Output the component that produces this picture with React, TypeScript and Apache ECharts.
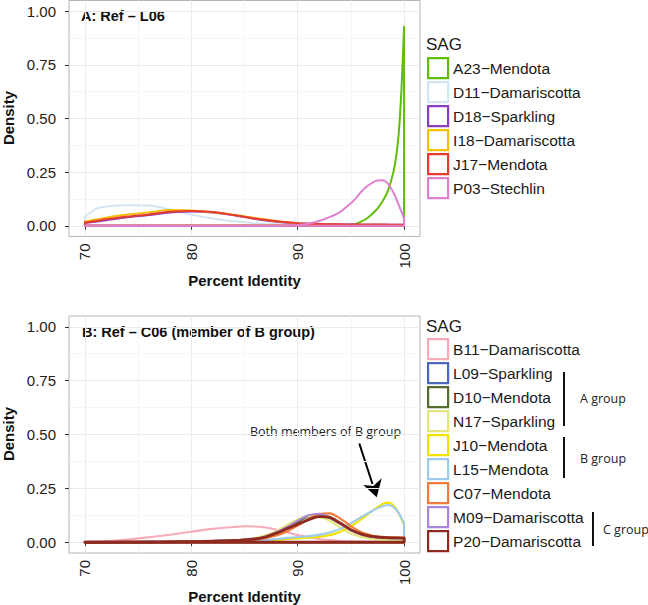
import React, { useEffect, useRef } from "react";
import * as echarts from "echarts";

// ---------- Panel A data ----------
const xA = [70, 71, 72, 74, 76, 78, 80, 82, 84, 86, 88, 89, 90, 91, 92, 93, 94, 95, 95.5, 96, 96.5, 97, 97.5, 98, 98.5, 99, 99.25, 99.5, 99.75, 100];
const namesA = ["A23\u2212Mendota", "D11\u2212Damariscotta", "D18\u2212Sparkling", "I18\u2212Damariscotta", "J17\u2212Mendota", "P03\u2212Stechlin"];
const colorsA = ["#62bd0a", "#d2e6f5", "#8b3ec0", "#f4bf0a", "#e63b2e", "#df80cf"];
const a23 = [0, 0, 0, 0, 0, 0, 0, 0, 0, 0, 0, 0, 0, 0, 0, 0, 0.001, 0.004, 0.009, 0.02, 0.034, 0.055, 0.08, 0.115, 0.165, 0.25, 0.32, 0.43, 0.63, 0.925];
const d11 = [0.042, 0.078, 0.09, 0.096, 0.094, 0.076, 0.052, 0.034, 0.021, 0.012, 0.007, 0.005, 0.004, 0.003, 0.002, 0.002, 0.002, 0.001, 0.001, 0.001, 0.001, 0.001, 0.001, 0.001, 0.001, 0.001, 0.001, 0.001, 0.001, 0.001];
const d18 = [0.013, 0.019, 0.026, 0.04, 0.05, 0.062, 0.067, 0.062, 0.049, 0.032, 0.019, 0.014, 0.011, 0.009, 0.008, 0.007, 0.006, 0.006, 0.005, 0.005, 0.005, 0.005, 0.005, 0.005, 0.005, 0.005, 0.005, 0.005, 0.005, 0.005];
const i18 = [0.019, 0.029, 0.038, 0.052, 0.062, 0.073, 0.071, 0.063, 0.051, 0.036, 0.022, 0.016, 0.011, 0.008, 0.006, 0.005, 0.004, 0.004, 0.003, 0.003, 0.003, 0.003, 0.003, 0.003, 0.003, 0.003, 0.003, 0.003, 0.003, 0.003];
const j17 = [0.015, 0.022, 0.03, 0.043, 0.053, 0.065, 0.069, 0.064, 0.05, 0.034, 0.021, 0.016, 0.012, 0.01, 0.008, 0.007, 0.007, 0.006, 0.006, 0.006, 0.006, 0.006, 0.006, 0.006, 0.005, 0.005, 0.005, 0.005, 0.005, 0.005];
const p03 = [0, 0, 0, 0, 0, 0, 0, 0, 0, 0, 0, 0.002, 0.004, 0.01, 0.022, 0.04, 0.065, 0.105, 0.13, 0.16, 0.183, 0.2, 0.211, 0.212, 0.195, 0.155, 0.128, 0.097, 0.066, 0.035];
const valuesA = [a23, d11, d18, i18, j17, p03];

// ---------- Panel B data ----------
const xB = [70, 72, 74, 76, 78, 80, 82, 84, 85, 86, 87, 88, 89, 90, 91, 92, 93, 94, 95, 96, 97, 97.5, 98, 98.5, 99, 99.5, 100];
const namesB = ["B11\u2212Damariscotta", "L09\u2212Sparkling", "D10\u2212Mendota", "N17\u2212Sparkling", "J10\u2212Mendota", "L15\u2212Mendota", "C07\u2212Mendota", "M09\u2212Damariscotta", "P20\u2212Damariscotta"];
const colorsB = ["#f7aab9", "#4a68bd", "#566b2e", "#e3e67a", "#f2e200", "#9ecbeb", "#f27b3a", "#a886d9", "#8e2a20"];
const b11 = [0.001, 0.005, 0.013, 0.023, 0.035, 0.049, 0.062, 0.071, 0.074, 0.073, 0.068, 0.058, 0.046, 0.033, 0.023, 0.015, 0.01, 0.006, 0.004, 0.003, 0.002, 0.002, 0.001, 0.001, 0.001, 0.001, 0.001];
const l09 = [0, 0.001, 0.001, 0.002, 0.003, 0.004, 0.006, 0.009, 0.012, 0.017, 0.027, 0.044, 0.068, 0.096, 0.121, 0.128, 0.114, 0.085, 0.056, 0.036, 0.025, 0.022, 0.02, 0.019, 0.018, 0.018, 0.018];
const d10 = [0, 0, 0.001, 0.001, 0.002, 0.003, 0.005, 0.008, 0.011, 0.016, 0.026, 0.043, 0.067, 0.095, 0.12, 0.129, 0.116, 0.087, 0.057, 0.037, 0.026, 0.023, 0.021, 0.02, 0.019, 0.019, 0.019];
const n17 = [0, 0, 0.001, 0.001, 0.002, 0.003, 0.005, 0.009, 0.013, 0.02, 0.032, 0.052, 0.08, 0.106, 0.122, 0.12, 0.1, 0.068, 0.04, 0.024, 0.016, 0.014, 0.012, 0.012, 0.011, 0.011, 0.011];
const j10 = [0, 0, 0.001, 0.001, 0.001, 0.002, 0.002, 0.003, 0.004, 0.005, 0.007, 0.01, 0.014, 0.018, 0.021, 0.025, 0.033, 0.049, 0.074, 0.107, 0.145, 0.163, 0.178, 0.184, 0.172, 0.135, 0.08];
const l15 = [0, 0.001, 0.001, 0.001, 0.002, 0.002, 0.003, 0.004, 0.005, 0.007, 0.01, 0.015, 0.02, 0.024, 0.028, 0.034, 0.045, 0.062, 0.088, 0.118, 0.145, 0.157, 0.167, 0.173, 0.164, 0.135, 0.088];
const c07 = [0, 0, 0.001, 0.001, 0.002, 0.003, 0.004, 0.006, 0.008, 0.012, 0.019, 0.031, 0.05, 0.077, 0.107, 0.131, 0.134, 0.11, 0.075, 0.046, 0.031, 0.027, 0.025, 0.024, 0.023, 0.022, 0.022];
const m09 = [0, 0, 0.001, 0.001, 0.002, 0.003, 0.005, 0.008, 0.011, 0.016, 0.027, 0.046, 0.071, 0.1, 0.125, 0.132, 0.116, 0.086, 0.056, 0.036, 0.025, 0.022, 0.02, 0.019, 0.018, 0.018, 0.018];
const p20 = [0, 0, 0.001, 0.001, 0.002, 0.003, 0.005, 0.008, 0.011, 0.015, 0.025, 0.042, 0.063, 0.084, 0.104, 0.119, 0.115, 0.089, 0.058, 0.038, 0.027, 0.024, 0.022, 0.021, 0.02, 0.02, 0.019];
const valuesB = [b11, l09, d10, n17, j10, l15, c07, m09, p20];

// ---------- Axes ----------
const xTicks = [70, 80, 90, 100];
const xMinorTicks = [75, 85, 95];
const yTicks = [0, 0.25, 0.5, 0.75, 1];
const yMinorTicks = [0.125, 0.375, 0.625, 0.875];
const xRange = [68.5, 101.5];
const yRange = [-0.05, 1.05];

const FONT = '"Liberation Sans", Arial, Helvetica, sans-serif';
const ANNOT = '"Open Sans", "Noto Sans", sans-serif';

function densitySeries(name: string, color: string, xs: number[], ys: number[], axisIdx: number, width: number) {
  const n = xs.length;
  const curve = xs.map((x, i) => [x, ys[i]]);
  const edges = [[xs[n - 1], ys[n - 1]], [xs[n - 1], 0], [xs[0], 0], [xs[0], ys[0]]];
  const common: any = {
    type: "line",
    name,
    xAxisIndex: axisIdx,
    yAxisIndex: axisIdx,
    symbol: "none",
    showSymbol: false,
    silent: true,
    clip: false,
    emphasis: { disabled: true },
    lineStyle: { color, width, cap: "round", join: "round" },
    itemStyle: { color },
  };
  return [
    { ...common, data: curve, smooth: 0.3 },
    { ...common, data: edges, smooth: false },
  ];
}

function majorX(gridIndex: number) {
  return {
    type: "value",
    gridIndex,
    min: xRange[0],
    max: xRange[1],
    axisLine: { show: false },
    axisTick: { show: true, length: 4, customValues: xTicks, lineStyle: { color: "#333", width: 1 } },
    axisLabel: { customValues: xTicks, rotate: 90, margin: 7, fontSize: 15, color: "#222", fontFamily: FONT },
    splitLine: { show: true, lineStyle: { color: "#ebebeb", width: 1 } },
  };
}
function minorX(gridIndex: number) {
  return {
    type: "value",
    gridIndex,
    min: xRange[0],
    max: xRange[1],
    position: "bottom",
    axisLine: { show: false },
    axisTick: { show: false, customValues: xMinorTicks },
    axisLabel: { show: false },
    splitLine: { show: true, lineStyle: { color: "#f5f5f5", width: 1 } },
  };
}
function majorY(gridIndex: number) {
  return {
    type: "value",
    gridIndex,
    min: yRange[0],
    max: yRange[1],
    axisLine: { show: false },
    axisTick: { show: true, length: 4, customValues: yTicks, lineStyle: { color: "#333", width: 1 } },
    axisLabel: {
      customValues: yTicks,
      margin: 13,
      fontSize: 15,
      color: "#222",
      fontFamily: FONT,
      formatter: (v: number) => v.toFixed(2),
    },
    splitLine: { show: true, lineStyle: { color: "#ebebeb", width: 1 } },
  };
}
function minorY(gridIndex: number) {
  return {
    type: "value",
    gridIndex,
    min: yRange[0],
    max: yRange[1],
    position: "left",
    axisLine: { show: false },
    axisTick: { show: false, customValues: yMinorTicks },
    axisLabel: { show: false },
    splitLine: { show: true, lineStyle: { color: "#f5f5f5", width: 1 } },
  };
}

function legendFor(names: string[], colors: string[], top: number) {
  return {
    orient: "vertical",
    left: 427,
    top,
    padding: 0,
    itemWidth: 20,
    itemHeight: 20,
    itemGap: 1.8,
    icon: "rect",
    selectedMode: false,
    textStyle: { fontSize: 15.5, color: "#1a1a1a", fontFamily: FONT },
    data: names.map((n, i) => ({
      name: n,
      icon: "rect",
      itemStyle: { color: "#ffffff", borderColor: colors[i], borderWidth: 2.2 },
    })),
  };
}

function txt(text: string, x: number, y: number, font: string, align = "left", rotation = 0, fill = "#111") {
  return {
    type: "text",
    x,
    y,
    rotation,
    silent: true,
    style: { text, font, fill, textAlign: align, textVerticalAlign: "middle", align, verticalAlign: "middle" },
  };
}

export default function App() {
  const ref = useRef<HTMLDivElement>(null);
  useEffect(() => {
    if (!ref.current) return;
    const chart = echarts.init(ref.current, undefined, { renderer: "svg" });
    const series: any[] = [];
    namesA.forEach((n, i) => series.push(...densitySeries(n, colorsA[i], xA, valuesA[i], 0, 2)));
    namesB.forEach((n, i) => series.push(...densitySeries(n, colorsB[i], xB, valuesB[i], 1, n.startsWith("P20") ? 2.8 : 2.1)));

    const bold15 = `bold 15px ${FONT}`;
    const bold145 = `bold 14.5px ${FONT}`;
    const annot = `12.5px ${ANNOT}`;

    const option: any = {
      animation: false,
      backgroundColor: "#ffffff",
      grid: [
        { left: 69, top: 0.5, width: 351, height: 236, show: true, borderColor: "#b5b5b5", borderWidth: 1, backgroundColor: "#ffffff" },
        { left: 69, top: 316, width: 351, height: 237, show: true, borderColor: "#b5b5b5", borderWidth: 1, backgroundColor: "#ffffff" },
      ],
      // axis order: index 0 = panel A major, 1 = panel B major, 2/3 = minor grids
      xAxis: [majorX(0), majorX(1), minorX(0), minorX(1)],
      yAxis: [majorY(0), majorY(1), minorY(0), minorY(1)],
      legend: [legendFor(namesA, colorsA, 57), legendFor(namesB, colorsB, 338)],
      series,
      graphic: [
        txt("A: Ref \u2013 L06", 81, 16, bold145),
        txt("B: Ref \u2013 C06 (member of B group)", 82, 332, bold145),
        txt("Density", 8, 118, bold15, "center", Math.PI / 2),
        txt("Density", 8, 434, bold15, "center", Math.PI / 2),
        txt("Percent Identity", 244.5, 280, bold15, "center"),
        txt("Percent Identity", 244.5, 596, bold15, "center"),
        txt("SAG", 426, 44, `17px ${FONT}`, "left", 0, "#1a1a1a"),
        txt("SAG", 426, 326, `17px ${FONT}`, "left", 0, "#1a1a1a"),
        txt("Both members of B group", 325.5, 431, annot, "center", 0, "#222"),
        txt("A group", 580, 398, annot, "left", 0, "#222"),
        txt("B group", 580, 458, annot, "left", 0, "#222"),
        txt("C group", 603, 529, annot, "left", 0, "#222"),
        { type: "line", silent: true, shape: { x1: 564, y1: 372, x2: 564, y2: 426 }, style: { stroke: "#111", lineWidth: 2 } },
        { type: "line", silent: true, shape: { x1: 564, y1: 437, x2: 564, y2: 478 }, style: { stroke: "#111", lineWidth: 2 } },
        { type: "line", silent: true, shape: { x1: 593, y1: 512, x2: 593, y2: 546 }, style: { stroke: "#111", lineWidth: 2 } },
        { type: "line", silent: true, shape: { x1: 359.3, y1: 443.5, x2: 372.5, y2: 484 }, style: { stroke: "#000", lineWidth: 2 } },
        {
          type: "polygon",
          silent: true,
          shape: { points: [[376.7, 497.3], [363.3, 485], [373.3, 486], [381.7, 478.3]] },
          style: { fill: "#000" },
        },
      ],
    };
    chart.setOption(option);
    return () => chart.dispose();
  }, []);
  return <div ref={ref} style={{ position: "fixed", left: 0, top: 0, width: 648, height: 605 }} />;
}
